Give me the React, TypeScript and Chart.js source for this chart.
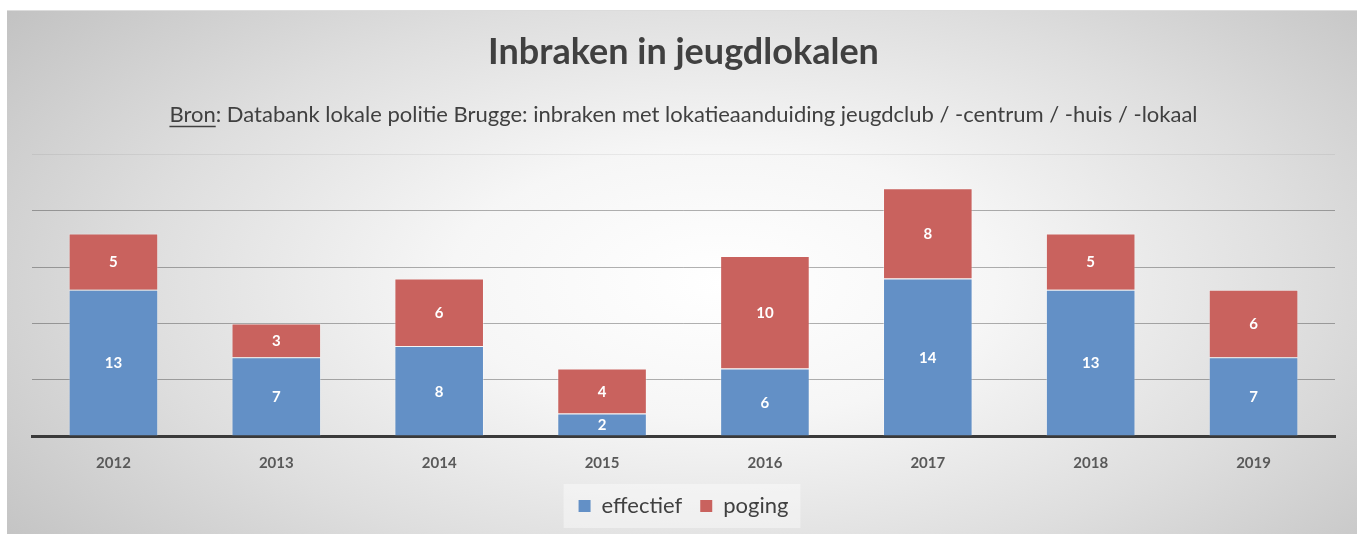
import React, { useEffect, useRef } from "react";
import { Chart, registerables } from "chart.js";

Chart.register(...registerables);

const categories = ["2012", "2013", "2014", "2015", "2016", "2017", "2018", "2019"];
const effectief = [13, 7, 8, 2, 6, 14, 13, 7];
const poging = [5, 3, 6, 4, 10, 8, 5, 6];
const seriesNames = ["effectief", "poging"];
const titleText = "Inbraken in jeugdlokalen";
const subtitleText =
  "Bron: Databank lokale politie Brugge: inbraken met lokatieaanduiding jeugdclub / -centrum / -huis / -lokaal";
const underlinedWord = "Bron";

const FONT = "Lato, 'Open Sans', sans-serif";
const BLUE = "#6390c6";
const RED = "#c9625e";

const valueLabels = {
  id: "valueLabels",
  afterDatasetsDraw(chart: any) {
    const ctx = chart.ctx;
    ctx.save();
    ctx.fillStyle = "#ffffff";
    ctx.font = `bold 15px ${FONT}`;
    ctx.textAlign = "center";
    ctx.textBaseline = "middle";
    chart.data.datasets.forEach((ds: any, di: number) => {
      const meta = chart.getDatasetMeta(di);
      meta.data.forEach((bar: any, i: number) => {
        const v = ds.data[i];
        if (!v) return;
        const y = (bar.y + bar.base) / 2;
        ctx.fillText(String(v), bar.x, y + 1);
      });
    });
    ctx.restore();
  },
};

const decorations = {
  id: "decorations",
  beforeDraw(chart: any) {
    const lg = chart.legend;
    if (lg && lg.legendHitBoxes && lg.legendHitBoxes.length) {
      const hb = lg.legendHitBoxes;
      const first = hb[0];
      const last = hb[hb.length - 1];
      const ctx = chart.ctx;
      ctx.save();
      ctx.fillStyle = "rgba(255,255,255,0.4)";
      const x0 = first.left - 15;
      const x1 = last.left + last.width + 12;
      const yc = first.top + first.height / 2;
      ctx.fillRect(x0, yc - 22, x1 - x0, 44);
      ctx.restore();
    }
  },
  afterDraw(chart: any) {
    const box = chart.boxes.find(
      (b: any) => b.options && b.options.text === subtitleText
    );
    if (!box) return;
    const ctx = chart.ctx;
    const size = box.options.font.size;
    ctx.save();
    ctx.font = `${size}px ${FONT}`;
    const full = ctx.measureText(subtitleText).width;
    const w = ctx.measureText(underlinedWord).width;
    const cx = (box.left + box.right) / 2;
    const lh = size * 1.2;
    const cy = box.top + box.options.padding.top + lh / 2;
    const x0 = cx - full / 2;
    ctx.strokeStyle = "#404040";
    ctx.lineWidth = 1.5;
    ctx.beginPath();
    ctx.moveTo(x0, cy + size * 0.5);
    ctx.lineTo(x0 + w, cy + size * 0.5);
    ctx.stroke();
    ctx.restore();
  },
};

export default function App() {
  const ref = useRef<HTMLCanvasElement>(null);
  useEffect(() => {
    if (!ref.current) return;
    const chart = new Chart(ref.current, {
      type: "bar",
      data: {
        labels: categories,
        datasets: [
          {
            label: seriesNames[0],
            data: effectief,
            backgroundColor: BLUE,
            borderColor: "rgba(255,255,255,0.3)",
            borderWidth: 1,
          },
          {
            label: seriesNames[1],
            data: poging,
            backgroundColor: RED,
            borderColor: "rgba(255,255,255,0.3)",
            borderWidth: 1,
          },
        ],
      },
      plugins: [valueLabels, decorations],
      options: {
        animation: false,
        responsive: false,
        maintainAspectRatio: false,
        layout: { padding: { left: 25, right: 22, top: 0, bottom: 8 } },
        datasets: { bar: { categoryPercentage: 1, barPercentage: 0.55 } },
        scales: {
          x: {
            stacked: true,
            grid: { display: false, drawTicks: false },
            border: { display: true, color: "#3a3a3a", width: 3 },
            ticks: {
              color: "#595959",
              font: { family: FONT, size: 15, weight: "bold" },
              padding: 18,
            },
            afterFit: (scale: any) => {
              scale.height -= 13;
            },
          },
          y: {
            stacked: true,
            min: 0,
            max: 25,
            ticks: { display: false, stepSize: 5 },
            border: { display: false },
            grid: {
              drawTicks: false,
              lineWidth: 1,
              color: (c: any) =>
                c.tick && c.tick.value === 0
                  ? "rgba(0,0,0,0)"
                  : c.tick && c.tick.value === 25
                  ? "rgba(0,0,0,0.06)"
                  : "rgba(0,0,0,0.3)",
            },
          },
        },
        plugins: {
          tooltip: { enabled: false },
          title: {
            display: true,
            text: titleText,
            color: "#404040",
            font: { family: FONT, size: 36, weight: "bold", lineHeight: 1.2 },
            padding: { top: 20, bottom: 28 },
          },
          subtitle: {
            display: true,
            text: subtitleText,
            color: "#404040",
            font: { family: FONT, size: 22, lineHeight: 1.2 },
            padding: { top: 0, bottom: 26 },
          },
          legend: {
            position: "bottom",
            labels: {
              color: "#404040",
              font: { family: FONT, size: 22 },
              boxWidth: 12,
              boxHeight: 12,
              padding: 18,
              generateLabels: (chart: any) => {
                const items = Chart.defaults.plugins.legend.labels.generateLabels(chart);
                items.forEach((it: any) => {
                  it.lineWidth = 0;
                  it.strokeStyle = "rgba(0,0,0,0)";
                });
                return items;
              },
            },
          },
        },
      },
    });
    return () => chart.destroy();
  }, []);

  return (
    <div
      style={{
        position: "absolute",
        left: 0,
        top: 0,
        width: 1362,
        height: 534,
        background: "#ffffff",
        overflow: "hidden",
      }}
    >
      <div
        style={{
          position: "absolute",
          left: 7,
          top: 10,
          width: 1350,
          height: 524,
          borderTop: "1px solid #dcdcdc",
          boxSizing: "border-box",
          background:
            "radial-gradient(ellipse 72% 92% at 53% 52%, #ffffff 0%, #f6f6f6 28%, #dedede 60%, #bcbcbc 100%)",
        }}
      >
        <canvas ref={ref} width={1350} height={524} style={{ display: "block", width: 1350, height: 524 }} />
      </div>
    </div>
  );
}
